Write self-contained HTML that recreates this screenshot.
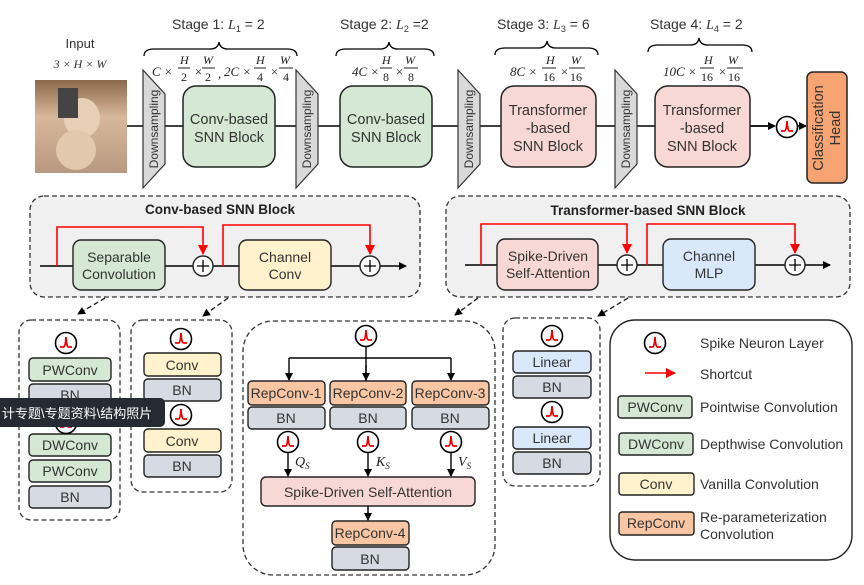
<!DOCTYPE html>
<html><head><meta charset="utf-8"><style>
body{margin:0;background:#fff}
svg{display:block;font-family:"Liberation Sans",sans-serif}
.m{font-family:"Liberation Serif",serif;font-style:italic}
</style></head><body>
<svg width="864" height="585" viewBox="0 0 864 585" xmlns="http://www.w3.org/2000/svg">
<defs>
<marker id="ab" markerWidth="8" markerHeight="8" refX="7" refY="4" orient="auto" markerUnits="userSpaceOnUse"><path d="M0,0 L8,4 L0,8z" fill="#000"/></marker>
<marker id="ar" markerWidth="10" markerHeight="10" refX="9" refY="5" orient="auto" markerUnits="userSpaceOnUse"><path d="M0,0 L10,5 L0,10z" fill="#f00"/></marker>
<g id="sp"><circle r="10.5" fill="#fff" stroke="#000" stroke-width="1.6"/><path d="M-6,4 L-2.5,4 Q-0.5,4 0,-6 Q0.5,4 2.5,4 L6,4" fill="none" stroke="#e00" stroke-width="1.8"/></g>
<linearGradient id="dog" x1="0" y1="0" x2="0" y2="1"><stop offset="0" stop-color="#8a6a4a"/><stop offset="0.4" stop-color="#d8b89a"/><stop offset="1" stop-color="#b89880"/></linearGradient>
</defs>

<text x="80" y="48" font-size="13" text-anchor="middle" fill="#333">Input</text>
<text x="80" y="68" font-size="12" text-anchor="middle" class="m" fill="#333">3 × H × W</text>
<rect x="35" y="80" width="92" height="93" fill="url(#dog)"/>
<ellipse cx="82" cy="118" rx="18" ry="20" fill="#e8d0b6"/><ellipse cx="76" cy="150" rx="20" ry="20" fill="#e2c8ac"/>
<rect x="58" y="88" width="20" height="30" fill="#444"/>

<line x1="127" y1="126" x2="770" y2="126" stroke="#000" stroke-width="1.5"/>
<line x1="749" y1="126" x2="775" y2="126" stroke="#000" stroke-width="1.5" marker-end="url(#ab)"/>
<line x1="798" y1="126" x2="806" y2="126" stroke="#000" stroke-width="1.5" marker-end="url(#ab)"/>
<use href="#sp" x="787" y="127"/>

<g fill="#d9d9d9" stroke="#333" stroke-width="1.2">
<path d="M143,70 L165,94 L165,164 L143,188z"/>
<path d="M296,70 L318,94 L318,164 L296,188z"/>
<path d="M458,70 L480,94 L480,164 L458,188z"/>
<path d="M615,70 L637,94 L637,164 L615,188z"/>
</g>
<g font-size="12" fill="#333" text-anchor="middle">
<text transform="translate(158,129) rotate(-90)">Downsampling</text>
<text transform="translate(311,129) rotate(-90)">Downsampling</text>
<text transform="translate(473,129) rotate(-90)">Downsampling</text>
<text transform="translate(630,129) rotate(-90)">Downsampling</text>
</g>
<g stroke="#222" stroke-width="1.5">
<rect x="183" y="86" width="92" height="81" rx="13" fill="#d5e8d4"/>
<rect x="340" y="86" width="92" height="81" rx="13" fill="#d5e8d4"/>
<rect x="501" y="86" width="95" height="81" rx="13" fill="#f8d8d4"/>
<rect x="655" y="86" width="95" height="81" rx="13" fill="#f8d8d4"/>
<rect x="807" y="72" width="40" height="111" rx="6" fill="#f7a472"/>
</g>
<g font-size="14.5" fill="#333" text-anchor="middle">
<text x="229" y="124">Conv-based</text><text x="229" y="142">SNN Block</text>
<text x="386" y="124">Conv-based</text><text x="386" y="142">SNN Block</text>
<text x="548" y="115">Transformer</text><text x="548" y="133">-based</text><text x="548" y="151">SNN Block</text>
<text x="702" y="115">Transformer</text><text x="702" y="133">-based</text><text x="702" y="151">SNN Block</text>
<text transform="translate(823,128) rotate(-90)">Classification</text>
<text transform="translate(840,128) rotate(-90)">Head</text>
</g>
<g font-size="14" fill="#333">
<text x="172" y="29">Stage 1: <tspan class="m">L</tspan><tspan font-size="9" dy="3">1</tspan><tspan dy="-3"> = 2</tspan></text>
<text x="340" y="29">Stage 2: <tspan class="m">L</tspan><tspan font-size="9" dy="3">2</tspan><tspan dy="-3"> =2</tspan></text>
<text x="497" y="29">Stage 3: <tspan class="m">L</tspan><tspan font-size="9" dy="3">3</tspan><tspan dy="-3"> = 6</tspan></text>
<text x="650" y="29">Stage 4: <tspan class="m">L</tspan><tspan font-size="9" dy="3">4</tspan><tspan dy="-3"> = 2</tspan></text>
</g>
<g fill="none" stroke="#000" stroke-width="1.3">
<path d="M144,56 Q144,49 154,49 L210,49 Q218,49 219,42 Q220,49 228,49 L287,49 Q297,49 297,56"/>
<path d="M336,56 Q336,49 346,49 L380,49 Q388,49 389,42 Q390,49 398,49 L424,49 Q434,49 434,56"/>
<path d="M495,55 Q495,48 505,48 L538,48 Q546,48 547,41 Q548,48 556,48 L588,48 Q598,48 598,55"/>
<path d="M648,52 Q648,45 658,45 L690,45 Q698,45 699,38 Q700,45 708,45 L742,45 Q752,45 752,52"/>
</g>
<g font-size="13" fill="#222" class="m">
<text x="152" y="76">C ×</text><text x="180" y="64" font-size="12">H</text><line x1="178" y1="68" x2="190" y2="68" stroke="#222"/><text x="181" y="81" font-size="12" font-style="normal">2</text>
<text x="194" y="76">×</text><text x="203" y="64" font-size="12">W</text><line x1="202" y1="68" x2="215" y2="68" stroke="#222"/><text x="205" y="81" font-size="12" font-style="normal">2</text>
<text x="218" y="78">,</text>
<text x="224" y="76">2C ×</text><text x="256" y="64" font-size="12">H</text><line x1="254" y1="68" x2="266" y2="68" stroke="#222"/><text x="257" y="81" font-size="12" font-style="normal">4</text>
<text x="270" y="76">×</text><text x="280" y="64" font-size="12">W</text><line x1="279" y1="68" x2="293" y2="68" stroke="#222"/><text x="283" y="81" font-size="12" font-style="normal">4</text>
<text x="352" y="76">4C ×</text><text x="382" y="64" font-size="12">H</text><line x1="380" y1="68" x2="392" y2="68" stroke="#222"/><text x="383" y="81" font-size="12" font-style="normal">8</text>
<text x="395" y="76">×</text><text x="405" y="64" font-size="12">W</text><line x1="404" y1="68" x2="418" y2="68" stroke="#222"/><text x="408" y="81" font-size="12" font-style="normal">8</text>
<text x="510" y="76">8C ×</text><text x="546" y="64" font-size="12">H</text><line x1="542" y1="68" x2="556" y2="68" stroke="#222"/><text x="543" y="81" font-size="12" font-style="normal">16</text>
<text x="560" y="76">×</text><text x="571" y="64" font-size="12">W</text><line x1="569" y1="68" x2="585" y2="68" stroke="#222"/><text x="570" y="81" font-size="12" font-style="normal">16</text>
<text x="663" y="76">10C ×</text><text x="704" y="64" font-size="12">H</text><line x1="700" y1="68" x2="714" y2="68" stroke="#222"/><text x="701" y="81" font-size="12" font-style="normal">16</text>
<text x="718" y="76">×</text><text x="728" y="64" font-size="12">W</text><line x1="727" y1="68" x2="743" y2="68" stroke="#222"/><text x="728" y="81" font-size="12" font-style="normal">16</text>
</g>

<g stroke="#333" stroke-width="1.3" stroke-dasharray="5,3" fill="#f0f0f0">
<rect x="30" y="196" width="390" height="101" rx="14"/>
<rect x="446" y="196" width="404" height="101" rx="14"/>
</g>
<g font-size="13.5" font-weight="bold" fill="#222" text-anchor="middle">
<text x="220" y="214">Conv-based SNN Block</text>
<text x="648" y="215">Transformer-based SNN Block</text>
</g>
<line x1="40" y1="266" x2="360" y2="266" stroke="#000" stroke-width="1.4"/>
<line x1="380" y1="266" x2="406" y2="266" stroke="#000" stroke-width="1.4" marker-end="url(#ab)"/>
<line x1="465" y1="265" x2="785" y2="265" stroke="#000" stroke-width="1.4"/>
<line x1="805" y1="265" x2="830" y2="265" stroke="#000" stroke-width="1.4" marker-end="url(#ab)"/>
<g stroke="#222" stroke-width="1.4">
<rect x="73" y="240" width="92" height="50" rx="8" fill="#d5e8d4"/>
<rect x="239" y="240" width="92" height="50" rx="8" fill="#fff2cc"/>
<rect x="497" y="239" width="101" height="51" rx="8" fill="#f8d8d4"/>
<rect x="663" y="239" width="92" height="51" rx="8" fill="#dae8fc"/>
<g fill="#fff"><circle cx="203" cy="266" r="10"/><circle cx="370" cy="266" r="10"/><circle cx="627" cy="265" r="10"/><circle cx="795" cy="265" r="10"/></g>
</g>
<g stroke="#000" stroke-width="1.3"><path d="M197,266h12M203,260v12M364,266h12M370,260v12M621,265h12M627,259v12M789,265h12M795,259v12"/></g>
<g fill="none" stroke="#f00" stroke-width="1.6">
<path d="M57,266 V227 H203 V254" marker-end="url(#ar)"/>
<path d="M223,266 V225 H370 V254" marker-end="url(#ar)"/>
<path d="M481,265 V224 H627 V253" marker-end="url(#ar)"/>
<path d="M647,265 V224 H795 V253" marker-end="url(#ar)"/>
</g>
<g font-size="14" fill="#333" text-anchor="middle">
<text x="119" y="262">Separable</text><text x="119" y="279">Convolution</text>
<text x="285" y="262">Channel</text><text x="285" y="279">Conv</text>
<text x="548" y="261">Spike-Driven</text><text x="548" y="278">Self-Attention</text>
<text x="709" y="261">Channel</text><text x="709" y="278">MLP</text>
</g>
<g stroke="#222" stroke-width="1.4" stroke-dasharray="5,3" fill="none">
<line x1="105" y1="298" x2="78" y2="314" marker-end="url(#ab)"/>
<line x1="228" y1="298" x2="203" y2="316" marker-end="url(#ab)"/>
<line x1="478" y1="298" x2="455" y2="315" marker-end="url(#ab)"/>
<line x1="628" y1="298" x2="598" y2="316" marker-end="url(#ab)"/>
</g>

<g stroke="#333" stroke-width="1.3" stroke-dasharray="5,3" fill="none">
<rect x="19" y="320" width="101" height="200" rx="12"/>
<rect x="131" y="320" width="101" height="172" rx="12"/>
<rect x="243" y="321" width="252" height="254" rx="30"/>
<rect x="503" y="318" width="97" height="168" rx="12"/>
</g>
<g stroke="#222" stroke-width="1.4">
<g fill="#d5e8d4"><rect x="29" y="358" width="82" height="23" rx="4"/><rect x="29" y="434" width="82" height="22" rx="4"/><rect x="29" y="460" width="82" height="22" rx="4"/></g>
<g fill="#d6dae3"><rect x="29" y="384" width="82" height="22" rx="4"/><rect x="29" y="486" width="82" height="22" rx="4"/>
<rect x="144" y="379" width="77" height="22" rx="4"/><rect x="144" y="455" width="77" height="22" rx="4"/>
<rect x="248" y="407" width="77" height="22" rx="4"/><rect x="330" y="407" width="76" height="22" rx="4"/><rect x="412" y="407" width="77" height="22" rx="4"/>
<rect x="332" y="547" width="77" height="23" rx="4"/>
<rect x="513" y="376" width="78" height="22" rx="4"/><rect x="513" y="452" width="78" height="22" rx="4"/></g>
<g fill="#fff2cc"><rect x="144" y="353" width="77" height="23" rx="4"/><rect x="144" y="429" width="77" height="23" rx="4"/></g>
<g fill="#f9c6a3"><rect x="248" y="381" width="77" height="24" rx="4"/><rect x="330" y="381" width="76" height="24" rx="4"/><rect x="412" y="381" width="77" height="24" rx="4"/><rect x="332" y="521" width="77" height="24" rx="4"/></g>
<rect x="261" y="477" width="214" height="29" rx="5" fill="#f8d8d4"/>
<g fill="#dae8fc"><rect x="513" y="351" width="78" height="22" rx="4"/><rect x="513" y="427" width="78" height="22" rx="4"/></g>
</g>
<g stroke="#000" stroke-width="1.4" fill="none">
<path d="M366,347 V381"/><path d="M289,358 H451"/>
<line x1="289" y1="358" x2="289" y2="380" marker-end="url(#ab)"/>
<line x1="366" y1="365" x2="366" y2="380" marker-end="url(#ab)"/>
<line x1="451" y1="358" x2="451" y2="380" marker-end="url(#ab)"/>
<line x1="288" y1="452" x2="288" y2="476" marker-end="url(#ab)"/>
<line x1="368" y1="452" x2="368" y2="476" marker-end="url(#ab)"/>
<line x1="451" y1="452" x2="451" y2="476" marker-end="url(#ab)"/>
<line x1="368" y1="506" x2="368" y2="520" marker-end="url(#ab)"/>
</g>
<use href="#sp" x="66" y="343"/><use href="#sp" x="66" y="423"/>
<use href="#sp" x="181" y="339"/><use href="#sp" x="181" y="415"/>
<use href="#sp" x="366" y="336"/>
<use href="#sp" x="288" y="442"/><use href="#sp" x="368" y="442"/><use href="#sp" x="451" y="442"/>
<use href="#sp" x="552" y="336"/><use href="#sp" x="552" y="412"/>
<g font-size="14" fill="#333" text-anchor="middle">
<text x="70" y="375">PWConv</text><text x="70" y="400">BN</text><text x="70" y="450">DWConv</text><text x="70" y="476">PWConv</text><text x="70" y="502">BN</text>
<text x="182" y="370">Conv</text><text x="182" y="395">BN</text><text x="182" y="446">Conv</text><text x="182" y="471">BN</text>
<text x="286" y="398">RepConv-1</text><text x="368" y="398">RepConv-2</text><text x="450" y="398">RepConv-3</text>
<text x="286" y="423">BN</text><text x="368" y="423">BN</text><text x="450" y="423">BN</text>
<text x="368" y="497">Spike-Driven Self-Attention</text>
<text x="370" y="538">RepConv-4</text><text x="370" y="564">BN</text>
<text x="552" y="367">Linear</text><text x="552" y="392">BN</text><text x="552" y="443">Linear</text><text x="552" y="468">BN</text>
</g>
<g font-size="14" class="m" fill="#222">
<text x="295" y="466">Q<tspan font-size="9" dy="3">S</tspan></text>
<text x="376" y="466">K<tspan font-size="9" dy="3">S</tspan></text>
<text x="458" y="466">V<tspan font-size="9" dy="3">S</tspan></text>
</g>

<rect x="-6" y="398" width="171" height="29" rx="5" fill="#262b33"/>
<text x="2" y="418" font-size="13" fill="#fff" font-family="'Liberation Sans','Noto Sans CJK SC',sans-serif">计专题\专题资料\结构照片</text>

<rect x="610" y="320" width="242" height="240" rx="25" fill="#fff" stroke="#222" stroke-width="1.4"/>
<use href="#sp" x="655" y="343"/>
<line x1="645" y1="373" x2="675" y2="373" stroke="#f00" stroke-width="1.6" marker-end="url(#ar)"/>
<g stroke="#222" stroke-width="1.4">
<rect x="618" y="396" width="74" height="22" rx="3" fill="#d5e8d4"/>
<rect x="619" y="433" width="74" height="22" rx="3" fill="#d5e8d4"/>
<rect x="619" y="473" width="75" height="22" rx="3" fill="#fff2cc"/>
<rect x="619" y="512" width="75" height="23" rx="3" fill="#f9c6a3"/>
</g>
<g font-size="14" fill="#333" text-anchor="middle">
<text x="655" y="412">PWConv</text><text x="656" y="449">DWConv</text><text x="656" y="489">Conv</text><text x="656" y="528">RepConv</text>
</g>
<g font-size="14" fill="#333">
<text x="700" y="348">Spike Neuron Layer</text>
<text x="700" y="379">Shortcut</text>
<text x="700" y="412">Pointwise Convolution</text>
<text x="700" y="449">Depthwise Convolution</text>
<text x="700" y="489">Vanilla Convolution</text>
<text x="700" y="522">Re-parameterization</text>
<text x="700" y="539">Convolution</text>
</g>
</svg>
</body></html>
